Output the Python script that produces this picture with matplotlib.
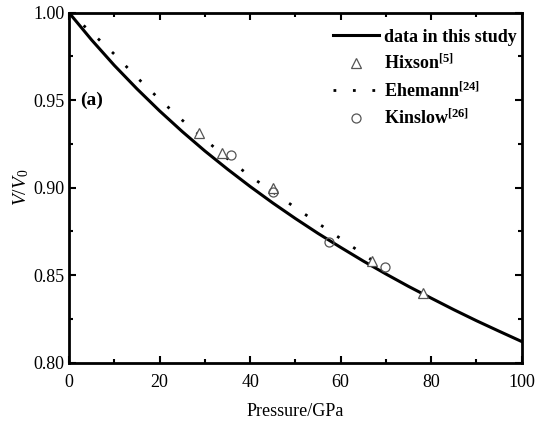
import matplotlib
matplotlib.use("Agg")
import matplotlib.pyplot as plt
from matplotlib.ticker import MultipleLocator

plt.rcParams['font.family'] = ['Liberation Serif', 'DejaVu Serif']
plt.rcParams['mathtext.fontset'] = 'custom'
plt.rcParams['mathtext.rm'] = 'Liberation Serif'
plt.rcParams['mathtext.it'] = 'Liberation Serif:italic'
plt.rcParams['mathtext.bf'] = 'Liberation Serif:bold'

# Solid curve: data in this study
study_p = [0, 5, 10, 15, 20, 25, 30, 35, 40, 45, 50, 55, 60, 65, 70, 75, 80, 85, 90, 95, 100]
study_v = [1.0000, 0.9844, 0.9699, 0.9565, 0.9439, 0.9321, 0.9210, 0.9106, 0.9007, 0.8913,
           0.8824, 0.8739, 0.8659, 0.8581, 0.8507, 0.8436, 0.8369, 0.8303, 0.8240, 0.8180, 0.8121]

# Hixson [5]
hixson_p = [28.8, 33.9, 45.1, 67.0, 78.2]
hixson_v = [0.9315, 0.9200, 0.8997, 0.8583, 0.8400]

# Ehemann [24] (dotted)
ehemann_p = [0, 5, 10, 15, 20, 25, 30, 35, 40, 45, 50, 55, 60, 65, 67]
ehemann_v = [1.0000, 0.9886, 0.9763, 0.9630, 0.9505, 0.9386, 0.9276, 0.9166, 0.9066, 0.8976,
             0.8886, 0.8797, 0.8709, 0.8620, 0.8585]

# Kinslow [26]
kinslow_p = [35.7, 45.0, 57.4, 69.9]
kinslow_v = [0.9189, 0.8975, 0.8688, 0.8549]

fig = plt.figure(figsize=(5.37, 4.22), dpi=100)
ax = fig.add_axes([0.1285, 0.1405, 0.9715 - 0.1285, 0.970 - 0.1405])

ax.plot(study_p, study_v, color='black', lw=2.2, label='data in this study', zorder=3)
ax.plot(hixson_p, hixson_v, linestyle='none', marker='^', markersize=6.5,
        markerfacecolor='white', markeredgecolor='#555555', markeredgewidth=0.9,
        label=r'Hixson$^{\mathbf{[5]}}$', zorder=4)
ax.plot(ehemann_p, ehemann_v, color='black', lw=2.0, linestyle=(0, (1, 6)),
        label=r'Ehemann$^{\mathbf{[24]}}$', zorder=3)
ax.plot(kinslow_p, kinslow_v, linestyle='none', marker='o', markersize=6.5,
        markerfacecolor='none', markeredgecolor='#555555', markeredgewidth=0.9,
        label=r'Kinslow$^{\mathbf{[26]}}$', zorder=4)

ax.set_xlim(0, 100)
ax.set_ylim(0.80, 1.00)
ax.xaxis.set_major_locator(MultipleLocator(20))
ax.xaxis.set_minor_locator(MultipleLocator(10))
ax.yaxis.set_minor_locator(MultipleLocator(0.025))
ax.set_yticks([0.80, 0.85, 0.90, 0.95, 1.00])
ax.set_yticklabels(['0.80', '0.85', '0.90', '0.95', '1.00'])
ax.tick_params(which='both', direction='in', top=True, right=True, labelsize=13, width=1.5)
ax.tick_params(axis='x', which='major', pad=8)
ax.tick_params(axis='y', which='major', pad=3)
ax.tick_params(which='major', length=5)
ax.tick_params(which='minor', length=3)
for s in ax.spines.values():
    s.set_linewidth(2)

ax.set_xlabel('Pressure/GPa', fontsize=13, labelpad=9)
ax.set_ylabel(r'$V/V_0$', fontsize=14, labelpad=2)

ax.text(2.4, 0.950, '(a)', fontsize=14, fontweight='bold', va='center', ha='left')

leg = ax.legend(loc='upper right', frameon=False, prop={'weight': 'bold', 'size': 13},
                handlelength=2.5, handletextpad=0.3, labelspacing=0.45,
                borderaxespad=0.0, bbox_to_anchor=(1.005, 0.975))

fig.savefig('out.png', dpi=100)
